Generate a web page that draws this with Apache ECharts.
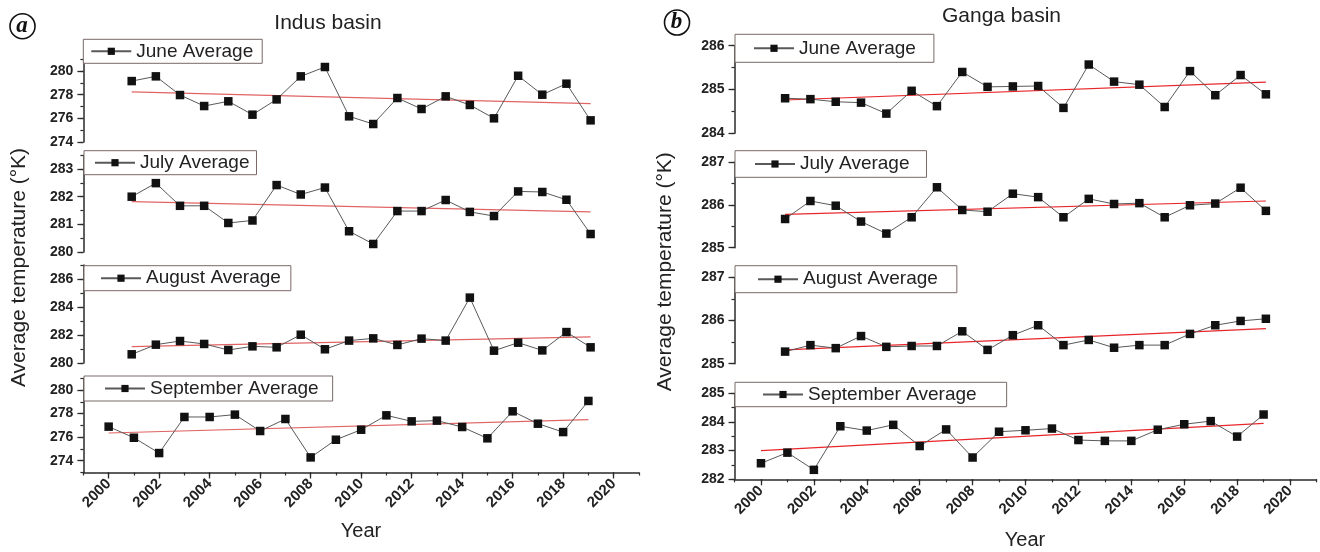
<!DOCTYPE html>
<html>
<head>
<meta charset="utf-8">
<script src="https://cdn.jsdelivr.net/npm/echarts@6/dist/echarts.min.js"></script>
<style>
html, body { margin: 0; padding: 0; background: #fff; }
#chart { width: 1320px; height: 552px; }
</style>
</head>
<body>
<div id="chart"></div>
<script>
// years of the monthly averages
const years = [2000, 2001, 2002, 2003, 2004, 2005, 2006, 2007, 2008, 2009,
               2010, 2011, 2012, 2013, 2014, 2015, 2016, 2017, 2018, 2019];
const yearTicks = [2000, 2002, 2004, 2006, 2008, 2010, 2012, 2014, 2016, 2018, 2020];

// Indus basin (K)
const indusJun = [279.15, 279.55, 277.97, 277.04, 277.44, 276.31, 277.60, 279.55, 280.34, 276.17,
                  275.52, 277.72, 276.79, 277.86, 277.13, 276.00, 279.60, 278.00, 278.93, 275.83];
const indusJul = [282.00, 282.49, 281.67, 281.67, 281.05, 281.14, 282.42, 282.08, 282.33, 280.75,
                  280.29, 281.48, 281.48, 281.88, 281.45, 281.30, 282.19, 282.17, 281.89, 280.65];
const indusAug = [280.62, 281.31, 281.57, 281.36, 280.93, 281.19, 281.12, 282.02, 280.98, 281.60,
                  281.76, 281.29, 281.74, 281.60, 284.67, 280.88, 281.45, 280.90, 282.21, 281.12];
const indusSep = [276.89, 275.95, 274.65, 277.71, 277.71, 277.91, 276.52, 277.54, 274.28, 275.78,
                  276.63, 277.85, 277.34, 277.40, 276.86, 275.90, 278.19, 277.14, 276.43, 279.07];
// linear trend, first and last year
const indusJunTrend = [278.23, 277.24];
const indusJulTrend = [281.82, 281.45];
const indusAugTrend = [281.17, 281.86];
const indusSepTrend = [276.35, 277.48];

// Ganga basin (K)
const gangaJun = [284.80, 284.78, 284.72, 284.70, 284.45, 284.97, 284.62, 285.40, 285.06, 285.07,
                  285.08, 284.58, 285.57, 285.18, 285.11, 284.60, 285.42, 284.87, 285.33, 284.89];
const gangaJul = [285.67, 286.09, 285.98, 285.61, 285.33, 285.71, 286.41, 285.88, 285.84, 286.26,
                  286.18, 285.71, 286.14, 286.02, 286.04, 285.71, 285.99, 286.03, 286.40, 285.86];
const gangaAug = [285.28, 285.43, 285.36, 285.64, 285.39, 285.41, 285.41, 285.75, 285.32, 285.66,
                  285.89, 285.43, 285.55, 285.37, 285.43, 285.43, 285.69, 285.89, 285.99, 286.04];
const gangaSep = [282.56, 282.93, 282.33, 283.85, 283.70, 283.90, 283.16, 283.74, 282.76, 283.66,
                  283.71, 283.77, 283.37, 283.34, 283.34, 283.73, 283.92, 284.03, 283.49, 284.26];
const gangaJunTrend = [284.76, 285.17];
const gangaJulTrend = [285.78, 286.09];
const gangaAugTrend = [285.32, 285.81];
const gangaSepTrend = [283.00, 283.95];

// y tick labels of each panel
const indusJunTicks = [274, 276, 278, 280];
const indusJulTicks = [280, 281, 282, 283];
const indusAugTicks = [280, 282, 284, 286];
const indusSepTicks = [274, 276, 278, 280];
const gangaJunTicks = [284, 285, 286];
const gangaJulTicks = [285, 286, 287];
const gangaAugTicks = [285, 286, 287];
const gangaSepTicks = [282, 283, 284, 285];

const FONT = '"Liberation Sans", Arial, sans-serif';
const LEFT_RED = '#e06464';
const RIGHT_RED = '#e8262a';

// one entry per small plot: grid box, y range (min, max, minor step), legend box
const panels = [
    { name: 'June Average', data: indusJun, trend: indusJunTrend, ticks: indusJunTicks, red: LEFT_RED,
      grid: [83.4, 59.2, 555.5, 82.8], y: [274, 281, 1], x: [1998, 2021],
      lg: [83.3, 39.3], pad: [2, 9, 2, 7] },
    { name: 'July Average', data: indusJul, trend: indusJulTrend, ticks: indusJulTicks, red: LEFT_RED,
      grid: [83.4, 155.2, 555.5, 96.8], y: [280, 283.5, 0.5], x: [1998, 2021],
      lg: [84, 150.7], pad: [2, 7, 2, 10] },
    { name: 'August Average', data: indusAug, trend: indusAugTrend, ticks: indusAugTicks, red: LEFT_RED,
      grid: [83.4, 265, 555.5, 98], y: [280, 287, 1], x: [1998, 2021],
      lg: [84, 265.7], pad: [2.5, 10, 2.5, 16] },
    { name: 'September Average', data: indusSep, trend: indusSepTrend, ticks: indusSepTicks, red: LEFT_RED,
      grid: [83.4, 378.2, 555.5, 94.3], y: [273, 281, 1], x: [1999, 2021], bottom: true,
      lg: [84, 376], pad: [2.5, 14, 2.5, 20] },
    { name: 'June Average', data: gangaJun, trend: gangaJunTrend, ticks: gangaJunTicks, red: RIGHT_RED,
      grid: [734.5, 45.7, 582, 87.6], y: [284, 286, 0.5], x: [1998, 2021],
      lg: [735, 34.3], pad: [4, 18, 4, 18] },
    { name: 'July Average', data: gangaJul, trend: gangaJulTrend, ticks: gangaJulTicks, red: RIGHT_RED,
      grid: [734.5, 162, 582, 85.7], y: [285, 287, 0.5], x: [1998, 2021],
      lg: [735, 150.7], pad: [3.3, 17, 3.3, 19] },
    { name: 'August Average', data: gangaAug, trend: gangaAugTrend, ticks: gangaAugTicks, red: RIGHT_RED,
      grid: [734.5, 277.3, 582, 86.4], y: [285, 287, 0.5], x: [1998, 2021],
      lg: [735, 265.7], pad: [3.5, 19, 3.5, 22] },
    { name: 'September Average', data: gangaSep, trend: gangaSepTrend, ticks: gangaSepTicks, red: RIGHT_RED,
      grid: [734.5, 393.3, 582, 86], y: [282, 285, 0.5], x: [1999, 2021], bottom: true,
      lg: [735, 382.3], pad: [2.2, 30, 2.2, 27] }
];

const INK = '#2a2a2a';
const tickFont = { color: '#222', fontSize: 14, fontWeight: 'bold', fontFamily: FONT };

// main axis: line + short minor ticks, no labels
function minorAxis(i, range, step, show, pos) {
    return {
        type: 'value', gridIndex: i, position: pos, offset: 0,
        min: range[0], max: range[1], interval: step, show: show,
        axisLine: { show: true, onZero: false, lineStyle: { color: INK, width: 1.5 } },
        axisTick: { show: true, length: 3, lineStyle: { color: INK, width: 1.2 } },
        axisLabel: { show: false },
        splitLine: { show: false }
    };
}
// overlay axis on the same side: long major ticks + labels at the given values
function majorAxis(i, range, step, show, pos, values, extra) {
    return {
        type: 'value', gridIndex: i, position: pos, offset: 0,
        min: range[0], max: range[1], interval: step, show: show,
        axisLine: { show: false, onZero: false },
        axisTick: { show: true, length: 6, customValues: values, lineStyle: { color: INK, width: 1.3 } },
        axisLabel: Object.assign({
            customValues: values, showMinLabel: true, showMaxLabel: true,
            formatter: v => String(v)
        }, tickFont, extra),
        splitLine: { show: false }
    };
}

const grids = [], xAxes = [], yAxes = [], series = [], legends = [];
panels.forEach((p, i) => {
    grids.push({ left: p.grid[0], top: p.grid[1], width: p.grid[2], height: p.grid[3] });
    const xi = xAxes.length, yi = yAxes.length;
    xAxes.push(minorAxis(i, p.x, 1, !!p.bottom, 'bottom'));
    xAxes.push(majorAxis(i, p.x, 1, !!p.bottom, 'bottom', yearTicks, { rotate: 45, margin: 9, fontSize: 15 }));
    yAxes.push(minorAxis(i, p.y, p.y[2], true, 'left'));
    yAxes.push(majorAxis(i, p.y, p.y[2], true, 'left', p.ticks, { margin: 10 }));
    series.push({
        name: 'trend' + i, type: 'line', xAxisIndex: xi, yAxisIndex: yi, silent: true,
        symbol: 'none', z: 2,
        lineStyle: { color: p.red, width: 1.2 },
        data: [[years[0], p.trend[0]], [years[years.length - 1], p.trend[1]]]
    });
    series.push({
        name: p.name, type: 'line', xAxisIndex: xi, yAxisIndex: yi, silent: true,
        symbol: 'rect', symbolSize: 8.5, z: 3,
        itemStyle: { color: '#111' },
        lineStyle: { color: '#595959', width: 1 },
        data: years.map((y, k) => [y, p.data[k]])
    });
    legends.push({
        data: [p.name], left: p.lg[0], top: p.lg[1], padding: p.pad,
        itemWidth: 40, itemHeight: 9, itemGap: 0, selectedMode: false,
        backgroundColor: '#fff', borderColor: '#7a6868', borderWidth: 1, borderRadius: 0,
        textStyle: { fontSize: 19, lineHeight: 20, color: '#222', fontFamily: FONT },
        z: 10
    });
});

const texts = [
    { type: 'text', x: 328, y: 23.5, style: { text: 'Indus basin', font: '21px ' + FONT, fill: '#222', align: 'center', verticalAlign: 'middle' } },
    { type: 'text', x: 1001.5, y: 16, style: { text: 'Ganga basin', font: '21px ' + FONT, fill: '#222', align: 'center', verticalAlign: 'middle' } },
    { type: 'text', x: 361, y: 531, style: { text: 'Year', font: '20px ' + FONT, fill: '#222', align: 'center', verticalAlign: 'middle' } },
    { type: 'text', x: 1025, y: 540, style: { text: 'Year', font: '20px ' + FONT, fill: '#222', align: 'center', verticalAlign: 'middle' } },
    { type: 'text', x: 19, y: 267.5, rotation: Math.PI / 2, style: { text: 'Average temperature (°K)', font: '21px ' + FONT, fill: '#222', align: 'center', verticalAlign: 'middle' } },
    { type: 'text', x: 665, y: 271.7, rotation: Math.PI / 2, style: { text: 'Average temperature (°K)', font: '21px ' + FONT, fill: '#222', align: 'center', verticalAlign: 'middle' } },
    // circled panel letters
    { type: 'circle', shape: { cx: 22.5, cy: 26.2, r: 12.5 }, style: { fill: 'none', stroke: '#111', lineWidth: 1.6 } },
    { type: 'text', x: 22, y: 26, style: { text: 'a', font: 'italic bold 23px "Liberation Serif", serif', fill: '#111', align: 'center', verticalAlign: 'middle' } },
    { type: 'circle', shape: { cx: 677, cy: 22.5, r: 12.5 }, style: { fill: 'none', stroke: '#111', lineWidth: 1.6 } },
    { type: 'text', x: 676.5, y: 22, style: { text: 'b', font: 'italic bold 23px "Liberation Serif", serif', fill: '#111', align: 'center', verticalAlign: 'middle' } }
];

const myChart = echarts.init(document.getElementById('chart'), null, { renderer: 'canvas' });
myChart.setOption({
    animation: false,
    backgroundColor: '#fff',
    grid: grids,
    xAxis: xAxes,
    yAxis: yAxes,
    legend: legends,
    series: series,
    graphic: texts
});
</script>
</body>
</html>
